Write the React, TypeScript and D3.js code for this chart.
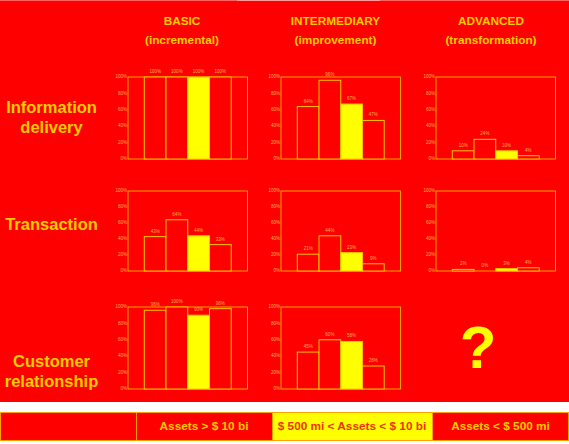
import React from 'react';
import * as d3 from 'd3';

const stages = ['BASIC', 'INTERMEDIARY', 'ADVANCED'];
const stageNotes = ['(incremental)', '(improvement)', '(transformation)'];
const services = [['Information', 'delivery'], ['Transaction'], ['Customer', 'relationship']];
const assetGroups = ['Assets > $ 10 bi', '$ 500 mi < Assets < $ 10 bi', 'Assets < $ 500 mi'];
const yTicks = [0, 20, 40, 60, 80, 100];
const bars = ['b1', 'b2', 'b3', 'b4'];

// values in %, one row per service, one list per stage
const infoValues = [[100, 100, 100, 100], [64, 96, 67, 47], [10, 24, 10, 4]];
const transValues = [[43, 64, 44, 33], [21, 44, 23, 9], [2, 0, 3, 4]];
const customerValues = [[96, 100, 90, 98], [45, 60, 58, 28], null];
const allValues = [infoValues, transValues, customerValues];

const W = 569, H = 444;
const RED = '#ff0000';
const GOLD = '#ffcc00';
const FRAME = '#ffa200';
const BAR_STROKE = '#ffc400';
const LABEL = '#ffb050';
const YELLOW = '#ffff00';

const colX = [128, 281, 436];
const headerX = [182, 335.5, 491];
const frameW = 119.5;
const rowTop = [77, 191, 307];
const rowH = [82, 80, 82];
const labelY = [113, 230, 367];

function MiniChart({ x, y, h, values }: { x: number; y: number; h: number; values: number[] }) {
  const xs = d3.scaleBand().domain(bars).range([0, frameW]).paddingInner(0).paddingOuter(0.75);
  const ys = d3.scaleLinear().domain([0, 100]).range([h, 0]);
  return (
    <g transform={`translate(${x},${y})`}>
      <rect x={0} y={0} width={frameW} height={h} fill="none" stroke={FRAME} strokeWidth={1} />
      {yTicks.map((t) => (
        <text key={t} x={-1} y={ys(t) + 1.2} fontSize={4.5} fill={LABEL} textAnchor="end"
          fontFamily="Liberation Sans, Arial, sans-serif">{t}%</text>
      ))}
      {values.map((v, i) => (
        <g key={i}>
          <rect x={xs(bars[i])} y={ys(v)} width={xs.bandwidth()} height={h - ys(v)}
            fill={i === 2 ? YELLOW : RED} stroke={BAR_STROKE} strokeWidth={1} />
          <text x={(xs(bars[i]) as number) + xs.bandwidth() / 2} y={ys(v) - 4} fontSize={4.5}
            fill={LABEL} textAnchor="middle" fontFamily="Liberation Sans, Arial, sans-serif">{v}%</text>
        </g>
      ))}
    </g>
  );
}

export default function App() {
  const font = 'Liberation Sans, Arial, Helvetica, sans-serif';
  const cellX = [0, 136, 272, 432, W];
  return (
    <svg width={W} height={H} style={{ position: 'absolute', left: 0, top: 0 }}>
      <rect x={0} y={0} width={W} height={H} fill="#ffffff" />
      <rect x={0} y={0} width={W} height={402} fill={RED} />
      <rect x={0} y={0} width={W} height={1} fill="#ff6060" />
      <rect x={237} y={0} width={143} height={1} fill="#ff9a9a" />

      {stages.map((s, i) => (
        <g key={s} fontFamily={font} fontWeight="bold" fill={GOLD} textAnchor="middle" fontSize={11.8}>
          <text x={headerX[i]} y={24.5}>{s}</text>
          <text x={headerX[i]} y={44}>{stageNotes[i]}</text>
        </g>
      ))}

      {services.map((lines, r) => (
        <text key={r} fontFamily={font} fontWeight="bold" fill={GOLD} textAnchor="middle" fontSize={16.5}>
          {lines.map((l, k) => (
            <tspan key={l} x={51.5} y={labelY[r] + k * 20}>{l}</tspan>
          ))}
        </text>
      ))}

      {allValues.map((row, r) =>
        row.map((vals, c) =>
          vals ? (
            <MiniChart key={`${r}-${c}`} x={colX[c]} y={rowTop[r]} h={rowH[r]} values={vals} />
          ) : (
            <text key={`${r}-${c}`} x={478} y={368} fontFamily={font} fontWeight="bold"
              fontSize={60} fill={YELLOW} textAnchor="middle">?</text>
          )
        )
      )}

      {[0, 1, 2, 3].map((i) => (
        <rect key={i} x={cellX[i] + 0.5} y={412.5} width={cellX[i + 1] - cellX[i] - (i === 3 ? 1 : 0)} height={28}
          fill={i === 2 ? YELLOW : RED} stroke={FRAME} strokeWidth={1} />
      ))}
      {assetGroups.map((a, i) => (
        <text key={a} x={(cellX[i + 1] + cellX[i + 2]) / 2} y={430} fontFamily={font} fontWeight="bold"
          fontSize={11.8} textAnchor="middle" fill={i === 1 ? '#ee3300' : GOLD}>{a}</text>
      ))}
    </svg>
  );
}
